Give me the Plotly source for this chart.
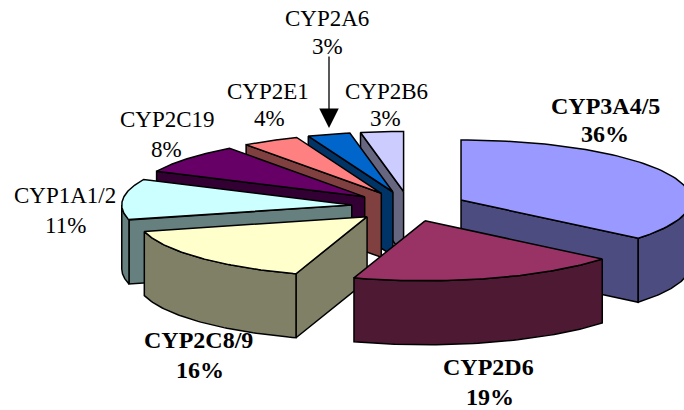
import numpy as np
import plotly.graph_objects as go

names = ["CYP3A4/5", "CYP2D6", "CYP2C8/9", "CYP1A1/2", "CYP2C19", "CYP2E1", "CYP2A6", "CYP2B6"]
values = [36, 19, 16, 11, 8, 4, 3, 3]
top_colors = ["#9999FF", "#993366", "#FFFFCC", "#CCFFFF", "#660066", "#FF8080", "#0066CC", "#CCCCFF"]
side_colors = ["#4C4C80", "#4D1933", "#808066", "#668080", "#330033", "#804040", "#003366", "#666680"]
bold = [True, True, True, False, False, False, False, False]
name_pos = [(605, 106), (488, 367), (198, 340), (65, 195), (167, 119), (268, 91), (327, 18), (386, 91)]
pct_pos = [(605, 134), (490, 397), (200, 370), (65, 225), (166, 149), (269, 118), (327, 46), (385, 118)]

CX, CY, RX, RY, DEPTH, EXPLODE = 409, 206.4, 230, 60, 64, 0.25
SERIF = "Liberation Serif"

fig = go.Figure()


def poly(xs, ys, color):
    fig.add_trace(go.Scatter(
        x=list(xs) + [xs[0]], y=list(ys) + [ys[0]], mode="lines", fill="toself",
        fillcolor=color, line=dict(color="#000000", width=1.5),
        showlegend=False, hoverinfo="skip"))


edges = np.cumsum([0] + values) / sum(values) * 2 * np.pi
slices = []
for i in range(len(values)):
    t1, t2 = edges[i], edges[i + 1]
    mid = (t1 + t2) / 2
    ax = CX + EXPLODE * RX * np.sin(mid)
    ay = CY - EXPLODE * RY * np.cos(mid)
    slices.append((ay, ax, t1, t2, i))

# back-to-front, like the painter's order of a 3D pie
for ay, ax, t1, t2, i in sorted(slices):
    side, top = side_colors[i], top_colors[i]
    px = lambda t: ax + RX * np.sin(t)
    py = lambda t: ay - RY * np.cos(t)
    if np.sin(t1) < -1e-9:
        poly([ax, px(t1), px(t1), ax], [ay, py(t1), py(t1) + DEPTH, ay + DEPTH], side)
    if np.sin(t2) > 1e-9:
        poly([ax, px(t2), px(t2), ax], [ay, py(t2), py(t2) + DEPTH, ay + DEPTH], side)
    lo, hi = max(t1, np.pi / 2), min(t2, 3 * np.pi / 2)
    if hi > lo:
        t = np.linspace(lo, hi, 60)
        xs = np.concatenate([px(t), px(t[::-1])])
        ys = np.concatenate([py(t), py(t[::-1]) + DEPTH])
        poly(xs, ys, side)
    t = np.linspace(t1, t2, 80)
    poly(np.concatenate([[ax], px(t)]), np.concatenate([[ay], py(t)]), top)

annotations = []
for i, name in enumerate(names):
    for (x, y), txt in ((name_pos[i], name), (pct_pos[i], f"{values[i]}%")):
        annotations.append(dict(
            x=x, y=y, xref="x", yref="y", text=f"<b>{txt}</b>" if bold[i] else txt,
            showarrow=False, xanchor="center", yanchor="middle",
            font=dict(family=SERIF, size=24 if bold[i] else 23, color="#000000")))
annotations.append(dict(
    x=329, y=128, ax=329, ay=55, xref="x", yref="y", axref="x", ayref="y", text="",
    showarrow=True, arrowhead=2, arrowsize=3, arrowwidth=1.3, arrowcolor="#000000"))

fig.update_layout(
    width=684, height=410, margin=dict(l=0, r=0, t=0, b=0),
    paper_bgcolor="white", plot_bgcolor="white", annotations=annotations,
    xaxis=dict(range=[0, 684], visible=False, fixedrange=True),
    yaxis=dict(range=[410, 0], visible=False, fixedrange=True),
)
fig.write_html(
    "out.html", config=dict(displayModeBar=False),
    post_script="document.body.style.margin='0';document.body.style.overflow='hidden';")
